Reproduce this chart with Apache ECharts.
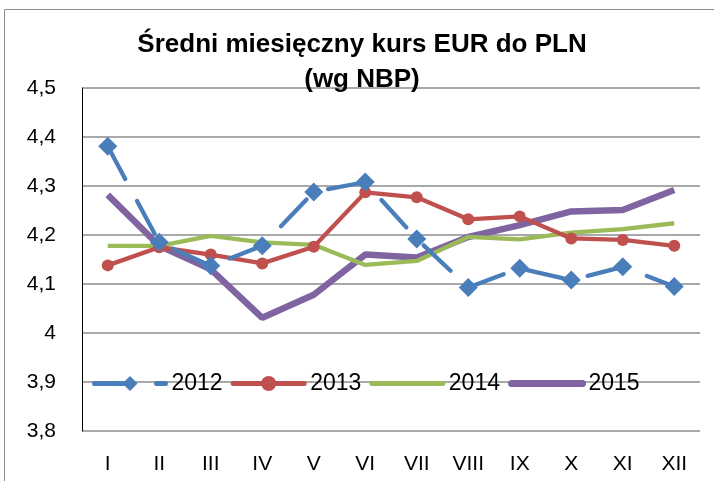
<!DOCTYPE html>
<html><head><meta charset="utf-8">
<script src="https://cdn.jsdelivr.net/npm/echarts@6/dist/echarts.min.js"></script>
<style>html,body{margin:0;padding:0;background:#fff}#c{width:714px;height:481px}</style>
</head><body><div id="c"></div>
<script>
var categories = ['I','II','III','IV','V','VI','VII','VIII','IX','X','XI','XII'];
var s2012 = [4.381, 4.185, 4.137, 4.178, 4.288, 4.308, 4.192, 4.093, 4.132, 4.108, 4.135, 4.095];
var s2013 = [4.138, 4.175, 4.160, 4.142, 4.176, 4.287, 4.277, 4.232, 4.238, 4.193, 4.190, 4.178];
var s2014 = [4.178, 4.178, 4.198, 4.185, 4.180, 4.139, 4.147, 4.196, 4.191, 4.205, 4.212, 4.224];
var s2015 = [4.282, 4.178, 4.130, 4.031, 4.078, 4.160, 4.154, 4.196, 4.220, 4.248, 4.251, 4.292];
var seriesNames = ['2012','2013','2014','2015'];
var yMin = 3.8, yMax = 4.5, yStep = 0.1;

var chart = echarts.init(document.getElementById('c'));
var font = 'Liberation Sans, Arial, sans-serif';
chart.setOption({
  animation: false,
  graphic: [{type:'rect', shape:{x:4.5,y:9.5,width:760,height:520}, style:{fill:'none', stroke:'#8c8c8c', lineWidth:1}, z:-1}],
  title: {
    text: 'Średni miesięczny kurs EUR do PLN\n(wg NBP)',
    left: 357, top: 22, textAlign: 'center',
    textStyle: {fontFamily: font, fontWeight: 'bold', fontSize: 26, color: '#000', lineHeight: 35}
  },
  grid: {left: 82, right: 14, top: 88, bottom: 50, containLabel: false},
  legend: {
    data: [
      {name: seriesNames[0], lineStyle: {width: 5, type: [37, 25], cap: 'round'}},
      {name: seriesNames[1], lineStyle: {width: 5, cap: 'round'}},
      {name: seriesNames[2], itemStyle: {opacity: 0}, lineStyle: {width: 5, cap: 'round'}},
      {name: seriesNames[3], itemStyle: {opacity: 0}, lineStyle: {width: 7, cap: 'round'}}
    ],
    left: 87, top: 372, padding: [0, 5],
    itemWidth: 71, itemHeight: 19, itemGap: 8,
    textStyle: {fontFamily: font, fontSize: 23, color: '#000', lineHeight: 19, padding: [0, 0, 0, 1]}
  },
  xAxis: {
    type: 'category', data: categories, boundaryGap: true,
    axisLine: {show: false}, axisTick: {show: false},
    axisLabel: {fontFamily: font, fontSize: 21, color: '#000', margin: 23}
  },
  yAxis: {
    type: 'value', min: yMin, max: yMax, interval: yStep,
    axisLine: {show: true, lineStyle: {color: '#000', width: 1}},
    axisTick: {show: false},
    splitLine: {lineStyle: {color: '#8c8c8c', width: 1.5}},
    axisLabel: {fontFamily: font, fontSize: 21, color: '#000', margin: 26,
      formatter: function(v){ return String(Math.round(v*10)/10).replace('.', ','); }}
  },
  series: [
    {name: seriesNames[0], type: 'line', data: s2012, symbol: 'diamond', symbolSize: [19, 19],
     itemStyle: {color: '#4A7EBB'}, lineStyle: {color: '#4A7EBB', width: 4.3, type: [37, 25], cap: 'round'}, z: 4},
    {name: seriesNames[1], type: 'line', data: s2013, symbol: 'circle', symbolSize: 12,
     itemStyle: {color: '#C0504D'}, lineStyle: {color: '#C0504D', width: 4.3}, z: 3},
    {name: seriesNames[2], type: 'line', data: s2014, symbol: 'none', showSymbol: false,
     itemStyle: {color: '#9BBB59'}, lineStyle: {color: '#9BBB59', width: 4.3}, z: 2},
    {name: seriesNames[3], type: 'line', data: s2015, symbol: 'none', showSymbol: false,
     itemStyle: {color: '#8064A2'}, lineStyle: {color: '#8064A2', width: 6.5}, z: 1}
  ]
});
</script></body></html>
